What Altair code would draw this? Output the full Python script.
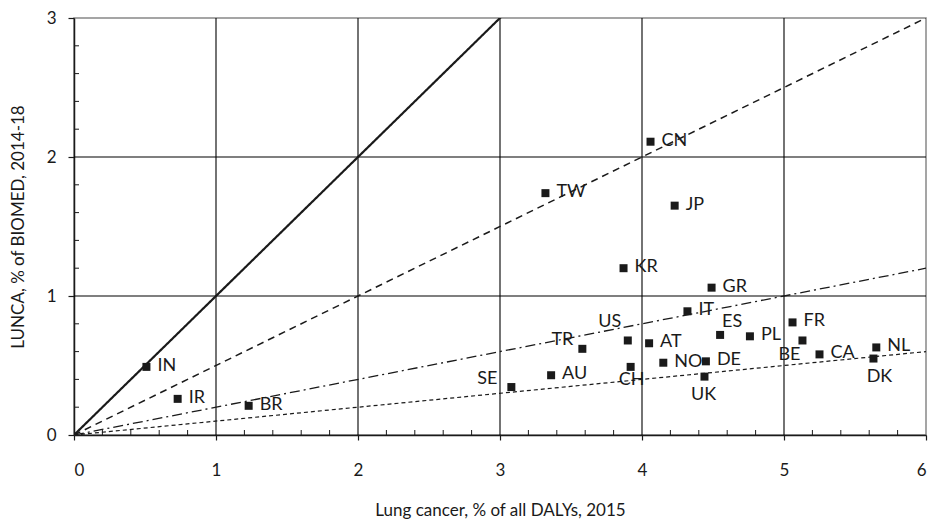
import altair as alt
import pandas as pd

# ---- data ----
countries = ["IN", "IR", "BR", "SE", "AU", "TR", "US", "CH", "AT", "NO", "DE", "UK", "ES",
             "PL", "IT", "FR", "BE", "CA", "NL", "DK", "GR", "KR", "JP", "TW", "CN"]
lung_dalys = [0.51, 0.73, 1.23, 3.08, 3.36, 3.58, 3.90, 3.92, 4.05, 4.15, 4.45, 4.44, 4.55,
              4.76, 4.32, 5.06, 5.13, 5.25, 5.65, 5.63, 4.49, 3.87, 4.23, 3.32, 4.06]
lunca_share = [0.49, 0.26, 0.21, 0.345, 0.43, 0.62, 0.68, 0.49, 0.66, 0.52, 0.53, 0.42, 0.72,
               0.71, 0.89, 0.81, 0.68, 0.58, 0.63, 0.55, 1.06, 1.20, 1.65, 1.74, 2.11]

x_ticks = [0, 1, 2, 3, 4, 5, 6]
y_ticks = [0, 1, 2, 3]
ref_slopes = [1.0, 0.5, 0.2, 0.1]  # reference lines y = k * x

x_minor = [round(i * 0.2, 1) for i in range(31) if i % 5]
y_minor = [round(i * 0.2, 1) for i in range(16) if i % 5]

# ---- style / layout ----
W, H = 852, 417
FONT = "Lato"
INK = "#1a1a1a"

pts = pd.DataFrame({"country": countries, "x": lung_dalys, "y": lunca_share})

xs = alt.Scale(domain=[0, 6], nice=False, zero=False)
ys = alt.Scale(domain=[0, 3], nice=False, zero=False)

base = alt.Chart(pts)

# grid rules
xgrid = alt.Chart(pd.DataFrame({"v": [v for v in x_ticks if 0 < v < 6]})).mark_rule(
    color="#000", strokeWidth=1.1).encode(x=alt.X("v:Q", scale=xs))
ygrid = alt.Chart(pd.DataFrame({"v": [v for v in y_ticks if 0 < v < 3]})).mark_rule(
    color="#000", strokeWidth=1.1).encode(y=alt.Y("v:Q", scale=ys))

# minor ticks (inside)
xmin = alt.Chart(pd.DataFrame({"v": x_minor})).mark_rule(color=INK, strokeWidth=1).encode(
    x=alt.X("v:Q", scale=xs), y=alt.value(H), y2=alt.value(H - 5))
ymin = alt.Chart(pd.DataFrame({"v": y_minor})).mark_rule(color=INK, strokeWidth=1).encode(
    y=alt.Y("v:Q", scale=ys), x=alt.value(0), x2=alt.value(5))

# reference lines
dash_styles = {1.0: ([1, 0], 2.2), 0.5: ([7, 5], 1.5), 0.2: ([10, 4, 2, 4], 1.3), 0.1: ([4, 3], 1.2)}
ref_layers = []
for k in ref_slopes:
    df = pd.DataFrame({"x": [0, 6], "y": [0, 6 * k]})
    dash, sw = dash_styles[k]
    ref_layers.append(
        alt.Chart(df).mark_line(color=INK, strokeWidth=sw, strokeDash=dash, clip=True).encode(
            x=alt.X("x:Q", scale=xs), y=alt.Y("y:Q", scale=ys)))

points = base.mark_square(size=64, color=INK, opacity=1, filled=True).encode(
    x=alt.X("x:Q", scale=xs,
            axis=alt.Axis(values=x_ticks, format="d", title="Lung cancer, % of all DALYs, 2015",
                          grid=False, tickSize=5, labelPadding=22, titleY=75,
                          titleBaseline="middle")),
    y=alt.Y("y:Q", scale=ys,
            axis=alt.Axis(values=y_ticks, format="d", title="LUNCA, % of BIOMED, 2014-18", grid=False,
                          tickSize=6, labelPadding=12, titleX=-56, titleY=H / 2,
                          titleAngle=270, titleAlign="center", titleBaseline="middle")))

# labels: placement config
special = {
    "US": (-18, -18, "center"),
    "TR": (-20, -9, "center"),
    "ES": (12, -13, "center"),
    "BE": (-13, 15, "center"),
    "DK": (6, 18, "center"),
    "UK": (-1, 18, "center"),
    "CH": (1, 13, "center"),
    "SE": (-24, -8, "center"),
}
LABEL_SIZE = 18
label_layers = [
    base.transform_filter(alt.FieldOneOfPredicate(field="country", oneOf=[c for c in countries if c not in special]))
    .mark_text(align="left", baseline="middle", dx=11, dy=-1, font=FONT, fontSize=LABEL_SIZE, color=INK)
    .encode(x=alt.X("x:Q", scale=xs), y=alt.Y("y:Q", scale=ys), text="country:N")
]
for c, (dx, dy, al) in special.items():
    label_layers.append(
        base.transform_filter(alt.datum.country == c)
        .mark_text(align=al, baseline="middle", dx=dx, dy=dy, font=FONT, fontSize=LABEL_SIZE, color=INK)
        .encode(x=alt.X("x:Q", scale=xs), y=alt.Y("y:Q", scale=ys), text="country:N"))

chart = alt.layer(xgrid, ygrid, xmin, ymin, *ref_layers, points, *label_layers).properties(
    width=W, height=H,
    autosize=alt.AutoSizeParams(type="none"),
    padding={"left": 74, "top": 18, "right": 6, "bottom": 94},
    background="white",
).configure_view(stroke="#888", strokeWidth=1.5).configure_axis(
    labelFont=FONT, titleFont=FONT, labelFontSize=17, titleFontSize=17,
    labelColor=INK, titleColor=INK, domainColor=INK, tickColor=INK,
    titleFontWeight="normal", domainWidth=1.5, tickWidth=1.2,
)

chart.save("out.html", embed_options={"renderer": "svg", "actions": False})
